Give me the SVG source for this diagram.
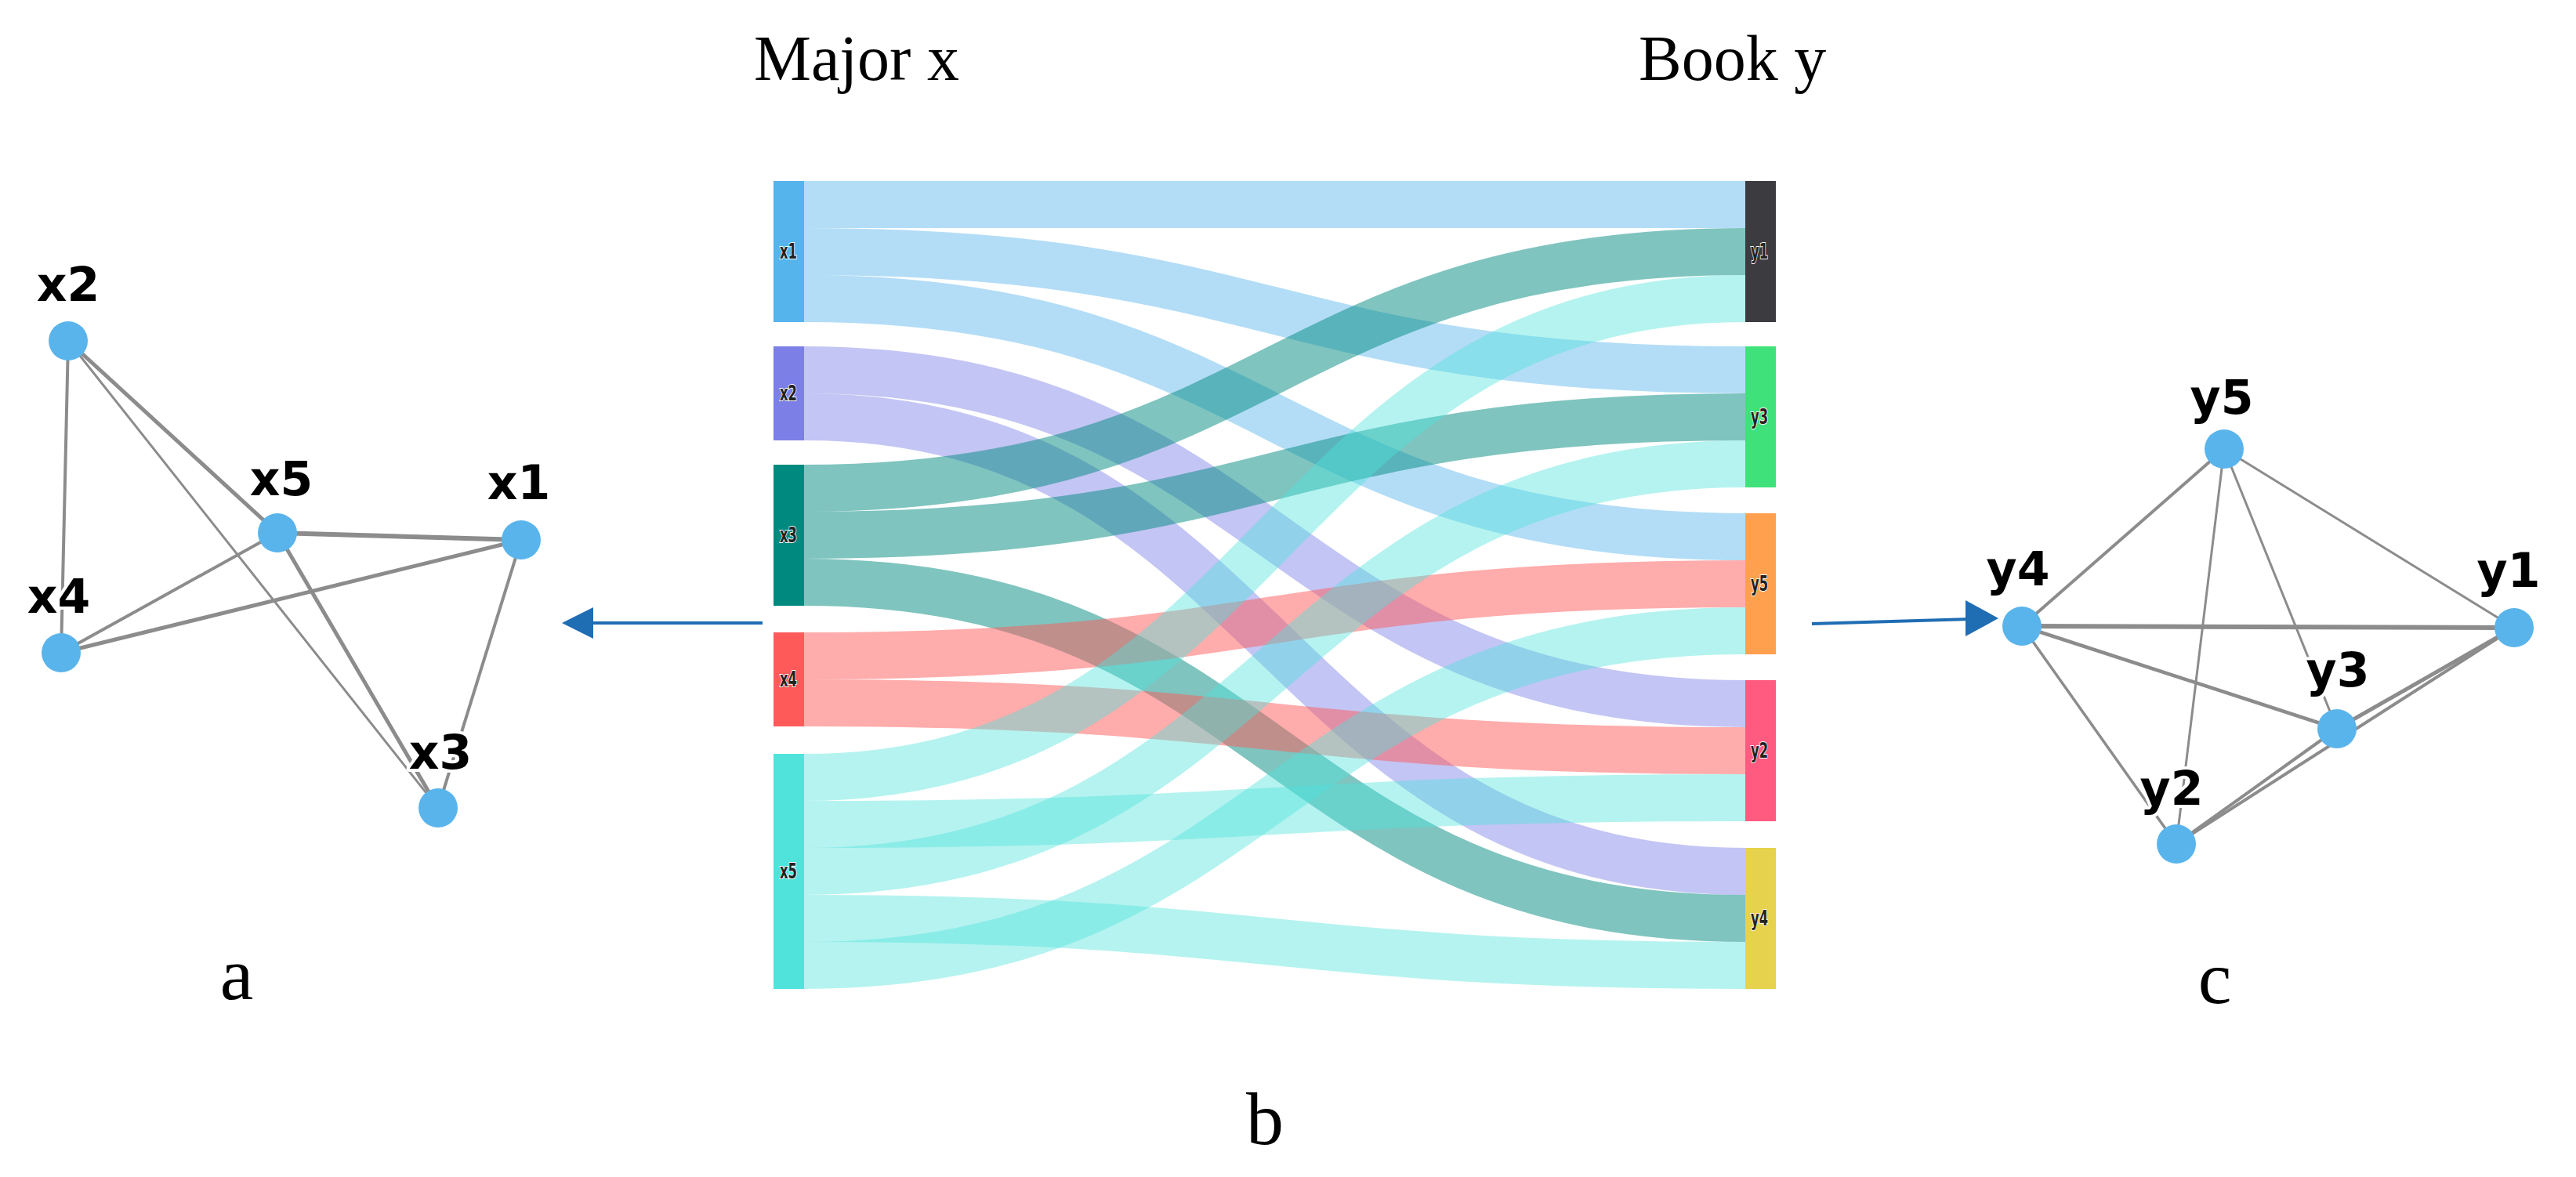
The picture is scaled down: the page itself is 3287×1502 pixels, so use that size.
<svg xmlns="http://www.w3.org/2000/svg" width="3287" height="1502" viewBox="0 0 3287 1502">
<style>
.cap{font-family:"Liberation Serif","Times New Roman",serif;fill:#000}
.nl{font-family:"DejaVu Sans",sans-serif;font-weight:700;font-size:60px;fill:#000;text-anchor:middle;stroke:#fff;stroke-width:8px;paint-order:stroke;stroke-linejoin:round}
.bl{font-family:"DejaVu Sans",sans-serif;font-weight:700;font-size:26px;fill:#222;text-anchor:middle;stroke:#fff;stroke-width:2px;paint-order:stroke}
.nd{fill:#5ab4ec}
.e{stroke:#8c8c8c;stroke-linecap:round;fill:none}
.f{fill:none;stroke-width:60px}
.f1{stroke:#56b4ec;stroke-opacity:.45}
.f2{stroke:#7b7fe6;stroke-opacity:.45}
.f3{stroke:#00897f;stroke-opacity:.5}
.f4{stroke:#ff5a5a;stroke-opacity:.5}
.f5{stroke:#4fe3dc;stroke-opacity:.42}
.arr{stroke:#1f6db3;stroke-width:4px;fill:none}
.ah{fill:#1f6db3}
</style>

<!-- titles -->
<text class="cap" x="962" y="102" font-size="82">Major x</text>
<text class="cap" x="2091" y="102" font-size="82">Book y</text>
<text class="cap" x="302" y="1275" font-size="96" text-anchor="middle">a</text>
<text class="cap" x="1614" y="1460" font-size="96" text-anchor="middle">b</text>
<text class="cap" x="2826" y="1280" font-size="96" text-anchor="middle">c</text>

<g id="connectors">
<!-- sankey flows -->
<g id="sankey-links">
<path class="f f1" d="M1026,261 C1626,261 1626,261 2227,261"/>
<path class="f f1" d="M1026,321 C1626,321 1626,472 2227,472"/>
<path class="f f1" d="M1026,381 C1626,381 1626,685 2227,685"/>
<path class="f f2" d="M1026,472 C1626,472 1626,898 2227,898"/>
<path class="f f2" d="M1026,532 C1626,532 1626,1112 2227,1112"/>
<path class="f f3" d="M1026,623 C1626,623 1626,321 2227,321"/>
<path class="f f3" d="M1026,683 C1626,683 1626,532 2227,532"/>
<path class="f f3" d="M1026,743 C1626,743 1626,1172 2227,1172"/>
<path class="f f4" d="M1026,837 C1626,837 1626,745 2227,745"/>
<path class="f f4" d="M1026,897 C1626,897 1626,958 2227,958"/>
<path class="f f5" d="M1026,992 C1626,992 1626,381 2227,381"/>
<path class="f f5" d="M1026,1052 C1626,1052 1626,1018 2227,1018"/>
<path class="f f5" d="M1026,1112 C1626,1112 1626,592 2227,592"/>
<path class="f f5" d="M1026,1172 C1626,1172 1626,1232 2227,1232"/>
<path class="f f5" d="M1026,1232 C1626,1232 1626,805 2227,805"/>
</g>

<!-- graph a edges -->
<g id="edges-a">
<line class="e" x1="87" y1="435" x2="78" y2="833" stroke-width="4" stroke="#9c9c9c"/>
<line class="e" x1="87" y1="435" x2="354" y2="680" stroke-width="5" stroke="#858585"/>
<line class="e" x1="87" y1="435" x2="559" y2="1031" stroke-width="3" stroke="#a8a8a8"/>
<line class="e" x1="354" y1="680" x2="665" y2="689" stroke-width="6" stroke="#9a9a9a"/>
<line class="e" x1="354" y1="680" x2="78" y2="833" stroke-width="4" stroke="#8a8a8a"/>
<line class="e" x1="78" y1="833" x2="665" y2="689" stroke-width="5" stroke="#8e8e8e"/>
<line class="e" x1="354" y1="680" x2="559" y2="1031" stroke-width="5" stroke="#808080"/>
<line class="e" x1="665" y1="689" x2="559" y2="1031" stroke-width="4" stroke="#8e8e8e"/>
</g>

<!-- graph c edges -->
<g id="edges-c">
<line class="e" x1="2838" y1="573" x2="2580" y2="799" stroke-width="4" stroke="#8a8a8a"/>
<line class="e" x1="2838" y1="573" x2="2777" y2="1077" stroke-width="3" stroke="#8e8e8e"/>
<line class="e" x1="2838" y1="573" x2="2982" y2="930" stroke-width="3" stroke="#7e7e7e"/>
<line class="e" x1="2838" y1="573" x2="3208" y2="801" stroke-width="3" stroke="#a0a0a0"/>
<line class="e" x1="2580" y1="799" x2="3208" y2="801" stroke-width="6" stroke="#c6c6c6"/>
<line class="e" x1="2580" y1="799" x2="2982" y2="930" stroke-width="4.5" stroke="#858585"/>
<line class="e" x1="2580" y1="799" x2="2777" y2="1077" stroke-width="3.5" stroke="#8a8a8a"/>
<line class="e" x1="3208" y1="801" x2="2982" y2="930" stroke-width="5" stroke="#8a8a8a"/>
<line class="e" x1="3208" y1="801" x2="2777" y2="1077" stroke-width="4" stroke="#8a8a8a"/>
<line class="e" x1="2982" y1="930" x2="2777" y2="1077" stroke-width="4" stroke="#8a8a8a"/>
</g>

<!-- arrows -->
<g id="arrows">
<line class="arr" x1="973" y1="795" x2="750" y2="795"/>
<polygon class="ah" points="717,795 757,775 757,815"/>
<line class="arr" x1="2312" y1="796" x2="2515" y2="790"/>
<polygon class="ah" points="2550,789 2508,766 2508,812"/>
</g>
</g>

<!-- sankey nodes -->
<g id="node-sx1"><rect x="987" y="231" width="39" height="180" fill="#56b4ec"/><text class="bl" x="1006" y="330" textLength="22" lengthAdjust="spacingAndGlyphs">x1</text></g>
<g id="node-sx2"><rect x="987" y="442" width="39" height="120" fill="#7b7fe6"/><text class="bl" x="1006" y="511" textLength="22" lengthAdjust="spacingAndGlyphs">x2</text></g>
<g id="node-sx3"><rect x="987" y="593" width="39" height="180" fill="#00897f"/><text class="bl" x="1006" y="692" textLength="22" lengthAdjust="spacingAndGlyphs">x3</text></g>
<g id="node-sx4"><rect x="987" y="807" width="39" height="120" fill="#ff5a5a"/><text class="bl" x="1006" y="876" textLength="22" lengthAdjust="spacingAndGlyphs">x4</text></g>
<g id="node-sx5"><rect x="987" y="962" width="39" height="300" fill="#4fe3dc"/><text class="bl" x="1006" y="1121" textLength="22" lengthAdjust="spacingAndGlyphs">x5</text></g>
<g id="node-sy1"><rect x="2227" y="231" width="39" height="180" fill="#3b3b40"/><text class="bl" x="2245" y="330" textLength="22" lengthAdjust="spacingAndGlyphs">y1</text></g>
<g id="node-sy3"><rect x="2227" y="442" width="39" height="180" fill="#3fe27a"/><text class="bl" x="2245" y="541" textLength="22" lengthAdjust="spacingAndGlyphs">y3</text></g>
<g id="node-sy5"><rect x="2227" y="655" width="39" height="180" fill="#ffa04f"/><text class="bl" x="2245" y="754" textLength="22" lengthAdjust="spacingAndGlyphs">y5</text></g>
<g id="node-sy2"><rect x="2227" y="868" width="39" height="180" fill="#ff5a80"/><text class="bl" x="2245" y="967" textLength="22" lengthAdjust="spacingAndGlyphs">y2</text></g>
<g id="node-sy4"><rect x="2227" y="1082" width="39" height="180" fill="#e6d24c"/><text class="bl" x="2245" y="1181" textLength="22" lengthAdjust="spacingAndGlyphs">y4</text></g>

<!-- graph a nodes -->
<g id="node-x2"><circle class="nd" cx="87" cy="435" r="25"/><text class="nl" x="87" y="384">x2</text></g>
<g id="node-x5"><circle class="nd" cx="354" cy="680" r="25"/><text class="nl" x="359" y="632">x5</text></g>
<g id="node-x1"><circle class="nd" cx="665" cy="689" r="25"/><text class="nl" x="662" y="637">x1</text></g>
<g id="node-x4"><circle class="nd" cx="78" cy="833" r="25"/><text class="nl" x="75" y="782">x4</text></g>
<g id="node-x3"><circle class="nd" cx="559" cy="1031" r="25"/><text class="nl" x="562" y="981">x3</text></g>

<!-- graph c nodes -->
<g id="node-y5"><circle class="nd" cx="2838" cy="573" r="25"/><text class="nl" x="2835" y="528">y5</text></g>
<g id="node-y4"><circle class="nd" cx="2580" cy="799" r="25"/><text class="nl" x="2575" y="747">y4</text></g>
<g id="node-y1"><circle class="nd" cx="3208" cy="801" r="25"/><text class="nl" x="3201" y="749">y1</text></g>
<g id="node-y3"><circle class="nd" cx="2982" cy="930" r="25"/><text class="nl" x="2983" y="876">y3</text></g>
<g id="node-y2"><circle class="nd" cx="2777" cy="1077" r="25"/><text class="nl" x="2771" y="1027">y2</text></g>
</svg>
